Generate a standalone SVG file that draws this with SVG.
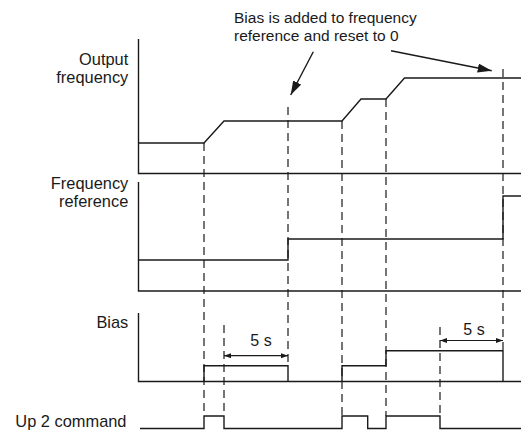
<svg xmlns="http://www.w3.org/2000/svg" width="521" height="434" viewBox="0 0 521 434">
<style>
  .t { font-family: "Liberation Sans", Arial, sans-serif; font-size: 16.4px; fill: #1a1a1a; }
  .lbl { text-anchor: end; }
  .ann { font-size: 15.5px; }
  .mid { text-anchor: middle; font-size: 16px; }
  .ax, .sig { fill: none; stroke: #1a1a1a; stroke-width: 1.4; }
  .dash { fill: none; stroke: #1a1a1a; stroke-width: 1.2; stroke-dasharray: 8 5; }
  .callout { stroke: #1a1a1a; stroke-width: 1.4; fill: none; }
  .dim { stroke: #1a1a1a; stroke-width: 1.2; fill: none; }
</style>
<defs>
  <marker id="bigArrow" markerUnits="userSpaceOnUse" markerWidth="15" markerHeight="10" refX="14" refY="4.5" orient="auto">
    <path d="M0,0 L14,4.5 L0,9 z" fill="#1a1a1a"/>
  </marker>
  <marker id="smallArrow" markerUnits="userSpaceOnUse" markerWidth="8" markerHeight="6" refX="7" refY="2.5" orient="auto-start-reverse">
    <path d="M0,0 L7,2.5 L0,5 z" fill="#1a1a1a"/>
  </marker>
</defs>
<rect width="521" height="434" fill="#ffffff"/>

<g id="labels">
  <text class="t lbl" x="128.3" y="65">Output</text>
  <text class="t lbl" x="128.3" y="82.5">frequency</text>
  <text class="t lbl" x="128.3" y="189">Frequency</text>
  <text class="t lbl" x="128.3" y="206.5">reference</text>
  <text class="t lbl" x="128.3" y="327.5">Bias</text>
  <text class="t lbl" x="126.5" y="426.7">Up 2 command</text>
</g>

<g id="annotation">
  <text class="t ann" x="234" y="23.3">Bias is added to frequency</text>
  <text class="t ann" x="234" y="40.7">reference and reset to 0</text>
</g>

<g id="output-frequency">
  <polyline class="ax" points="138.5,39 138.5,173.5 521,173.5"/>
  <polyline class="sig" points="139,143 204,143 224,121 342,121 361,99 386,99 404.5,78 521,78"/>
</g>

<g id="frequency-reference">
  <polyline class="ax" points="138.5,182 138.5,291 521,291"/>
  <polyline class="sig" points="139,260 288,260 288,239 503,239 503,196 521,196"/>
</g>

<g id="bias">
  <polyline class="ax" points="138.5,313 138.5,381.5 521,381.5"/>
  <polyline class="sig" points="204,381.5 204,365.7 288,365.7 288,381.5"/>
  <polyline class="sig" points="342,381.5 342,365.7 386,365.7 386,350.7 503,350.7 503,381.5"/>
  <text class="t mid" x="261" y="345.7">5 s</text>
  <text class="t mid" x="474" y="335">5 s</text>
</g>

<g id="up2-command">
  <polyline class="sig" points="140,428.5 204,428.5 204,416 224,416 224,428.5 342,428.5 342,416 367.7,416 367.7,428.5 386,428.5 386,416 440,416 440,428.5 521,428.5"/>
</g>

<g id="connectors">
  <line class="dash" x1="204" y1="143" x2="204" y2="416"/>
  <line class="dash" x1="224" y1="325" x2="224" y2="416"/>
  <line class="dash" x1="288" y1="107" x2="288" y2="366"/>
  <line class="dash" x1="342" y1="121" x2="342" y2="416"/>
  <line class="dash" x1="386" y1="99" x2="386" y2="416"/>
  <line class="dash" x1="440" y1="327" x2="440" y2="416"/>
  <line class="dash" x1="503" y1="69" x2="503" y2="351"/>
  <line class="callout" x1="313.3" y1="51.7" x2="290.7" y2="95" marker-end="url(#bigArrow)"/>
  <line class="callout" x1="391" y1="50.7" x2="491.7" y2="70.7" marker-end="url(#bigArrow)"/>
  <line class="dim" x1="224" y1="355.7" x2="288" y2="355.7" marker-start="url(#smallArrow)" marker-end="url(#smallArrow)"/>
  <line class="dim" x1="440" y1="340.5" x2="503" y2="340.5" marker-start="url(#smallArrow)" marker-end="url(#smallArrow)"/>
</g>
</svg>
